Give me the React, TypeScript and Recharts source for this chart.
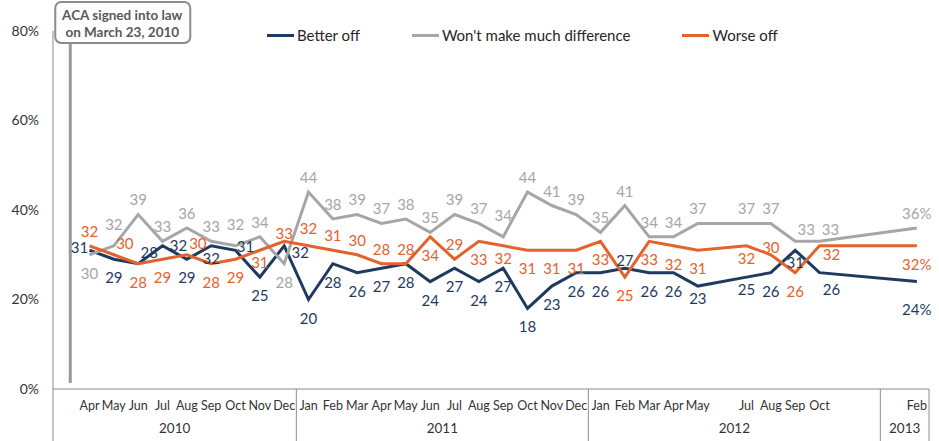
import React from 'react';
import { LineChart, Line, XAxis, YAxis, LabelList, ReferenceLine, Legend } from 'recharts';

// ---- data ----
const periods = [
  'Mar 2010', 'Apr 2010', 'May 2010', 'Jun 2010', 'Jul 2010', 'Aug 2010', 'Sep 2010', 'Oct 2010', 'Nov 2010', 'Dec 2010',
  'Jan 2011', 'Feb 2011', 'Mar 2011', 'Apr 2011', 'May 2011', 'Jun 2011', 'Jul 2011', 'Aug 2011', 'Sep 2011', 'Oct 2011', 'Nov 2011', 'Dec 2011',
  'Jan 2012', 'Feb 2012', 'Mar 2012', 'Apr 2012', 'May 2012', 'Jun 2012', 'Jul 2012', 'Aug 2012', 'Sep 2012', 'Oct 2012', 'Nov 2012', 'Dec 2012',
  'Jan 2013', 'Feb 2013',
];
const betterOff = [
  null, 31, 29, 28, 32, 29, 32, 31, 25, 32,
  20, 28, 26, 27, 28, 24, 27, 24, 27, 18, 23, 26,
  26, 27, 26, 26, 23, null, 25, 26, 31, 26, null, null,
  null, 24,
];
const noDifference = [
  null, 30, 32, 39, 33, 36, 33, 32, 34, 28,
  44, 38, 39, 37, 38, 35, 39, 37, 34, 44, 41, 39,
  35, 41, 34, 34, 37, null, 37, 37, 33, 33, null, null,
  null, 36,
];
const worseOff = [
  null, 32, 30, 28, 29, 30, 28, 29, 31, 33,
  32, 31, 30, 28, 28, 34, 29, 33, 32, 31, 31, 31,
  33, 25, 33, 32, 31, null, 32, 30, 26, 32, null, null,
  null, 32,
];
const yTicks = [0, 20, 40, 60, 80];
const acaSigned = { year: 2010, month: 3, day: 23, text: ['ACA signed into law', 'on March 23, 2010'] };

// ---- label placement (style, index-aligned) ----
const betterPlace = [
  '', 'l', 'b', 'ar', 'r', 'b', 'bs', 'rs', 'b', 'rd',
  'b', 'b', 'b', 'b', 'b', 'b', 'b', 'b', 'b', 'b', 'b', 'b',
  'b', 'as', 'b', 'b', 'bs', '', 'bs', 'b', 'bs', 'br', '', '',
  '', 'bb',
];
const noDiffPlace = [
  '', 'b', 'aa', 'a', 'a', 'a', 'a', 'aa', 'a', 'b',
  'a', 'a', 'a', 'a', 'a', 'a', 'a', 'a', 'aa', 'a', 'a', 'a',
  'a', 'a', 'a', 'a', 'a', '', 'a', 'a', 'ar', 'ar', '', '',
  '', 'a',
];
const worsePlace = [
  '', 'a', 'ar', 'b', 'b', 'ar', 'b', 'b', 'bs', 'as',
  'am', 'a', 'a', 'a', 'a', 'b', 'a', 'b', 'bs', 'b', 'b', 'b',
  'b', 'b', 'b', 'b', 'b', '', 'bs', 'as', 'b', 'rb', '', '',
  '', 'b',
];
const OFF: Record<string, [number, number]> = {
  a: [0, -15], am: [0, -18], aa: [0, -22], as: [0, -8], ar: [11, -12],
  b: [0, 18], bs: [0, 12], bb: [0, 27], br: [12, 16], rb: [12, 8],
  l: [-10, -3], r: [16, -1], rs: [10, -4], rd: [16, 6],
};

const NAVY = '#1f3a5f';
const GREY = '#a6a6a6';
const ORANGE = '#e4622c';
const FONT = 'Lato, "Open Sans", sans-serif';

// ---- derived table ----
const data = periods.map((p, i) => ({
  x: i + 0.5,
  period: p,
  b: betterOff[i],
  g: noDifference[i],
  w: worseOff[i],
}));

const monthTicks = new Map<number, string>();
periods.forEach((p, i) => {
  if (betterOff[i] != null || noDifference[i] != null || worseOff[i] != null) {
    monthTicks.set(i + 0.5, p.split(' ')[0]);
  }
});
const boundaries: number[] = [0];
const yearTicks = new Map<number, string>();
{
  let start = 0;
  for (let i = 1; i <= periods.length; i++) {
    const prevYear = periods[i - 1].split(' ')[1];
    const curYear = i < periods.length ? periods[i].split(' ')[1] : null;
    if (curYear !== prevYear) {
      boundaries.push(i);
      yearTicks.set((start + i) / 2, prevYear);
      start = i;
    }
  }
}
const allTicks = [...boundaries, ...monthTicks.keys(), ...yearTicks.keys()];

const daysInMonth = new Date(acaSigned.year, acaSigned.month, 0).getDate();
const acaX = (acaSigned.day - 1) / daysInMonth; // months after start of Mar 2010

const XTick = (props: any) => {
  const { x, y, payload } = props;
  const v = payload.value;
  if (boundaries.includes(v)) {
    return <line x1={x} x2={x} y1={y} y2={y + 52} stroke="#8c8c8c" strokeWidth={1} />;
  }
  if (monthTicks.has(v)) {
    return (
      <text x={x} y={y + 16} textAnchor="middle" dominantBaseline="central" fontSize={12.5} fill="#333" fontFamily={FONT}>
        {monthTicks.get(v)}
      </text>
    );
  }
  if (yearTicks.has(v)) {
    return (
      <text x={x} y={y + 39} textAnchor="middle" dominantBaseline="central" fontSize={13.5} fill="#333" fontFamily={FONT}>
        {yearTicks.get(v)}
      </text>
    );
  }
  return null;
};

const makeLabel = (place: string[], color: string) => (props: any) => {
  const { x, y, value, index } = props;
  if (value == null || y == null || x == null) return null;
  const off = OFF[place[index]] || OFF.a;
  const txt = index === periods.length - 1 ? `${value}%` : `${value}`;
  return (
    <text x={x + off[0]} y={y + off[1]} textAnchor="middle" dominantBaseline="central" fontSize={15} fill={color} fontFamily={FONT}>
      {txt}
    </text>
  );
};

const AcaMarker = (props: any) => {
  const vb = props.viewBox || {};
  const vx = vb.x;
  const vy = vb.y;
  const h = vb.height;
  if (vx == null) return null;
  return (
    <g>
      <line x1={vx} x2={vx} y1={vy + 12} y2={vy + h - 6} stroke="#999" strokeWidth={3} />
      <rect x={vx - 15} y={vy - 29} width={135} height={41} rx={6} ry={6} fill="#fff" stroke="#8c8c8c" strokeWidth={2} />
      <text x={vx + 52} y={vy - 16} textAnchor="middle" dominantBaseline="central" fontSize={13.5} fontWeight={700} fill="#595959" fontFamily={FONT}>
        {acaSigned.text[0]}
      </text>
      <text x={vx + 52} y={vy + 1} textAnchor="middle" dominantBaseline="central" fontSize={13.5} fontWeight={700} fill="#595959" fontFamily={FONT}>
        {acaSigned.text[1]}
      </text>
    </g>
  );
};

const LegendContent = (props: any) => {
  const payload = props.payload || [];
  return (
    <div style={{ display: 'flex', alignItems: 'center', gap: 52, fontFamily: FONT, fontSize: 15, color: '#262626', height: 22 }}>
      {payload.map((e: any) => (
        <div key={e.value} style={{ display: 'flex', alignItems: 'center', whiteSpace: 'nowrap' }}>
          <span style={{ display: 'inline-block', width: 27, height: 3, background: e.color, marginRight: 3 }} />
          <span>{e.value}</span>
        </div>
      ))}
    </div>
  );
};

export default function App() {
  return (
    <div style={{ position: 'absolute', left: 0, top: 0, width: 939, height: 441, background: '#fff' }}>
      <LineChart width={939} height={441} data={data} margin={{ top: 31, right: 10, left: 0, bottom: 0 }} style={{ fontFamily: FONT }}>
        <XAxis
          dataKey="x"
          type="number"
          domain={[0, periods.length]}
          ticks={allTicks}
          interval={0}
          tick={<XTick />}
          tickLine={false}
          tickSize={0}
          tickMargin={0}
          height={52}
          axisLine={{ stroke: '#8c8c8c', strokeWidth: 1 }}
          allowDataOverflow
        />
        <YAxis
          domain={[0, 80]}
          ticks={yTicks}
          width={53}
          tickFormatter={(v: number) => `${v}%`}
          tickLine={false}
          tickSize={0}
          tickMargin={14}
          axisLine={{ stroke: '#8c8c8c', strokeWidth: 1 }}
          tick={{ fontSize: 14, fill: '#333', fontFamily: FONT }}
        />
        <Legend
          layout="horizontal"
          verticalAlign="middle"
          align="center"
          content={<LegendContent />}
          wrapperStyle={{ top: 24, left: 267, width: 'auto', height: 22 }}
        />
        <ReferenceLine x={acaX} stroke="none" ifOverflow="visible" label={<AcaMarker />} />
        <Line dataKey="b" name="Better off" stroke={NAVY} strokeWidth={3} dot={false} activeDot={false} connectNulls isAnimationActive={false}>
          <LabelList dataKey="b" content={makeLabel(betterPlace, NAVY)} />
        </Line>
        <Line dataKey="g" name="Won't make much difference" stroke={GREY} strokeWidth={3} dot={false} activeDot={false} connectNulls isAnimationActive={false}>
          <LabelList dataKey="g" content={makeLabel(noDiffPlace, GREY)} />
        </Line>
        <Line dataKey="w" name="Worse off" stroke={ORANGE} strokeWidth={3} dot={false} activeDot={false} connectNulls isAnimationActive={false}>
          <LabelList dataKey="w" content={makeLabel(worsePlace, ORANGE)} />
        </Line>
      </LineChart>
    </div>
  );
}
